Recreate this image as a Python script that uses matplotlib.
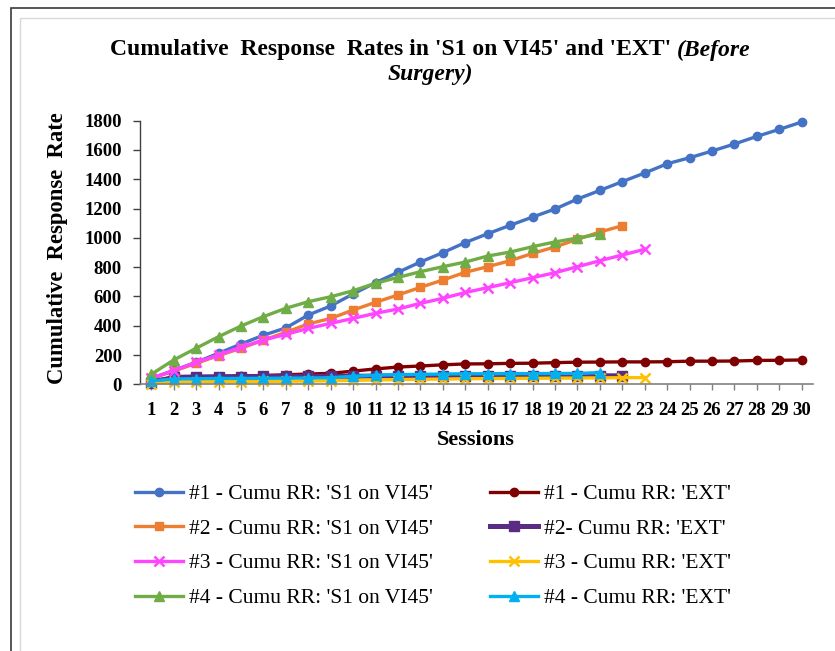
import matplotlib
matplotlib.use("Agg")
import matplotlib.pyplot as plt
from matplotlib.patches import Rectangle

sessions = list(range(1, 31))

# Cumulative response rate per session, 'S1 on VI45'
s1_rat1 = [40, 95, 150, 212, 275, 335, 385, 473, 535, 617, 694, 765, 835, 899, 968,
           1028, 1086, 1142, 1197, 1265, 1324, 1384, 1443, 1506, 1547, 1593, 1641, 1693, 1741, 1791]
s1_rat2 = [40, 90, 143, 196, 246, 302, 355, 412, 450, 507, 560, 610, 662, 712, 765,
           803, 844, 894, 938, 990, 1040, 1083]
s1_rat3 = [41, 93, 150, 200, 253, 302, 341, 382, 416, 450, 485, 514, 553, 587, 627,
           660, 694, 728, 762, 803, 844, 883, 922]
s1_rat4 = [68, 166, 246, 325, 398, 462, 519, 564, 598, 639, 690, 730, 769, 803, 835,
           876, 903, 940, 972, 999, 1026]

# Cumulative response rate per session, 'EXT'
ext_rat1 = [30, 40, 45, 50, 55, 60, 65, 70, 75, 90, 105, 118, 125, 133, 139,
            140, 143, 144, 148, 151, 152, 153, 153, 154, 158, 158, 159, 163, 164, 166]
ext_rat2 = [10, 48, 50, 52, 53, 54, 54, 55, 55, 55, 56, 56, 56, 57, 57,
            57, 57, 57, 57, 58, 58, 58]
ext_rat3 = [5, 15, 17, 18, 19, 20, 21, 22, 24, 27, 30, 32, 34, 36, 38,
            39, 40, 41, 42, 43, 44, 45, 46]
ext_rat4 = [23, 36, 38, 40, 40, 41, 42, 43, 45, 55, 62, 66, 68, 70, 72,
            72, 73, 73, 74, 74, 80]

labels_s1 = ["#1 - Cumu RR: 'S1 on VI45'", "#2 - Cumu RR: 'S1 on VI45'",
             "#3 - Cumu RR: 'S1 on VI45'", "#4 - Cumu RR: 'S1 on VI45'"]
labels_ext = ["#1 - Cumu RR: 'EXT'", "#2- Cumu RR: 'EXT'",
              "#3 - Cumu RR: 'EXT'", "#4 - Cumu RR: 'EXT'"]

y_ticks = [0, 200, 400, 600, 800, 1000, 1200, 1400, 1600, 1800]

SERIF = ["Liberation Serif", "DejaVu Serif"]
plt.rcParams["font.family"] = SERIF

W, H = 835, 651
fig = plt.figure(figsize=(W / 100, H / 100), dpi=100)

# document frame around the chart
fig.patches.append(Rectangle((11 / W, -0.1), 1.2, 1 - 8 / H + 0.1, transform=fig.transFigure,
                             fill=False, edgecolor="#3a3a3a", linewidth=1.2, zorder=0))
fig.patches.append(Rectangle((20 / W, -0.1), 1.2, 1 - 18 / H + 0.1, transform=fig.transFigure,
                             fill=False, edgecolor="#d9d9d9", linewidth=1.0, zorder=0))

left, right, top, bottom = 140, 813, 120.7, 384.3
ax = fig.add_axes([left / W, 1 - bottom / H, (right - left) / W, (bottom - top) / H])

styles = [
    (s1_rat1, labels_s1[0], dict(color="#4472C4", marker="o", ms=6, lw=2.4)),
    (ext_rat1, labels_ext[0], dict(color="#7F0000", marker="o", ms=6, lw=2.4)),
    (s1_rat2, labels_s1[1], dict(color="#ED7D31", marker="s", ms=6, lw=2.4)),
    (ext_rat2, labels_ext[1], dict(color="#5B2C83", marker="s", ms=7.5, lw=3.6)),
    (s1_rat3, labels_s1[2], dict(color="#FF45FF", marker="x", ms=7, lw=2.4, mew=1.8)),
    (ext_rat3, labels_ext[2], dict(color="#FFC000", marker="x", ms=7, lw=2.4, mew=1.8)),
    (s1_rat4, labels_s1[3], dict(color="#70AD47", marker="^", ms=7, lw=2.4)),
    (ext_rat4, labels_ext[3], dict(color="#00B0F0", marker="^", ms=7, lw=2.4)),
]

handles = {}
for values, label, kw in styles:
    ln, = ax.plot(sessions[:len(values)], values, label=label, clip_on=False,
                  solid_joinstyle="round", **kw)
    handles[label] = ln

ax.set_xlim(0.5, 30.5)
ax.set_ylim(0, 1800)
ax.set_xticks(sessions)
ax.set_xticklabels([str(s) for s in sessions])
ax.set_yticks(y_ticks)
ax.set_yticklabels([str(v) for v in y_ticks])

for side in ("top", "right"):
    ax.spines[side].set_visible(False)
ax.spines["left"].set_color("#404040")
ax.spines["bottom"].set_color("#808080")
ax.spines["left"].set_linewidth(1.0)
ax.spines["bottom"].set_linewidth(1.2)
ax.tick_params(axis="y", direction="out", length=5, width=1, colors="#404040",
               labelcolor="black", labelsize=13.5, pad=8)
ax.tick_params(axis="x", direction="out", length=4, width=1, colors="#808080",
               labelcolor="black", labelsize=13.5, pad=8.5)
for lab in ax.get_xticklabels() + ax.get_yticklabels():
    lab.set_fontweight("bold")

ax.set_ylabel("Cumulative  Response  Rate", fontsize=16.3, fontweight="bold")
ax.yaxis.set_label_coords((58 - left) / (right - left), (bottom - 248) / (bottom - top))
ax.set_xlabel("Sessions", fontsize=16, fontweight="bold")
ax.xaxis.set_label_coords((476 - left) / (right - left), -(440 - bottom) / (bottom - top))
ax.xaxis.label.set_va("center")
ax.yaxis.label.set_va("center")

# two-line title with a bold-italic tail
fig.canvas.draw()
renderer = fig.canvas.get_renderer()
t_size = 17
t1 = fig.text(0, 0, "Cumulative  Response  Rates in 'S1 on VI45' and 'EXT' ",
              fontsize=t_size, fontweight="bold", va="center", ha="left")
t2 = fig.text(0, 0, "(Before", fontsize=t_size, fontweight="bold", style="italic",
              va="center", ha="left")
w1 = t1.get_window_extent(renderer).width
w2 = t2.get_window_extent(renderer).width
cx = 430
x0 = cx - (w1 + w2) / 2
t1.set_position((x0 / W, 1 - 50 / H))
t2.set_position(((x0 + w1) / W, 1 - 50 / H))
fig.text(cx / W, 1 - 74 / H, "Surgery)", fontsize=t_size, fontweight="bold",
         style="italic", ha="center", va="center")

order = labels_s1 + labels_ext
leg = fig.legend([handles[k] for k in order], order, ncol=2, loc="upper left",
                 bbox_to_anchor=(135 / W, 1 - 484 / H), frameon=False,
                 prop={"family": SERIF, "size": 15.5}, handlelength=2.25,
                 handletextpad=0.25, columnspacing=2.65, labelspacing=0.68,
                 borderpad=0, borderaxespad=0)

fig.savefig("out.png", dpi=100)
